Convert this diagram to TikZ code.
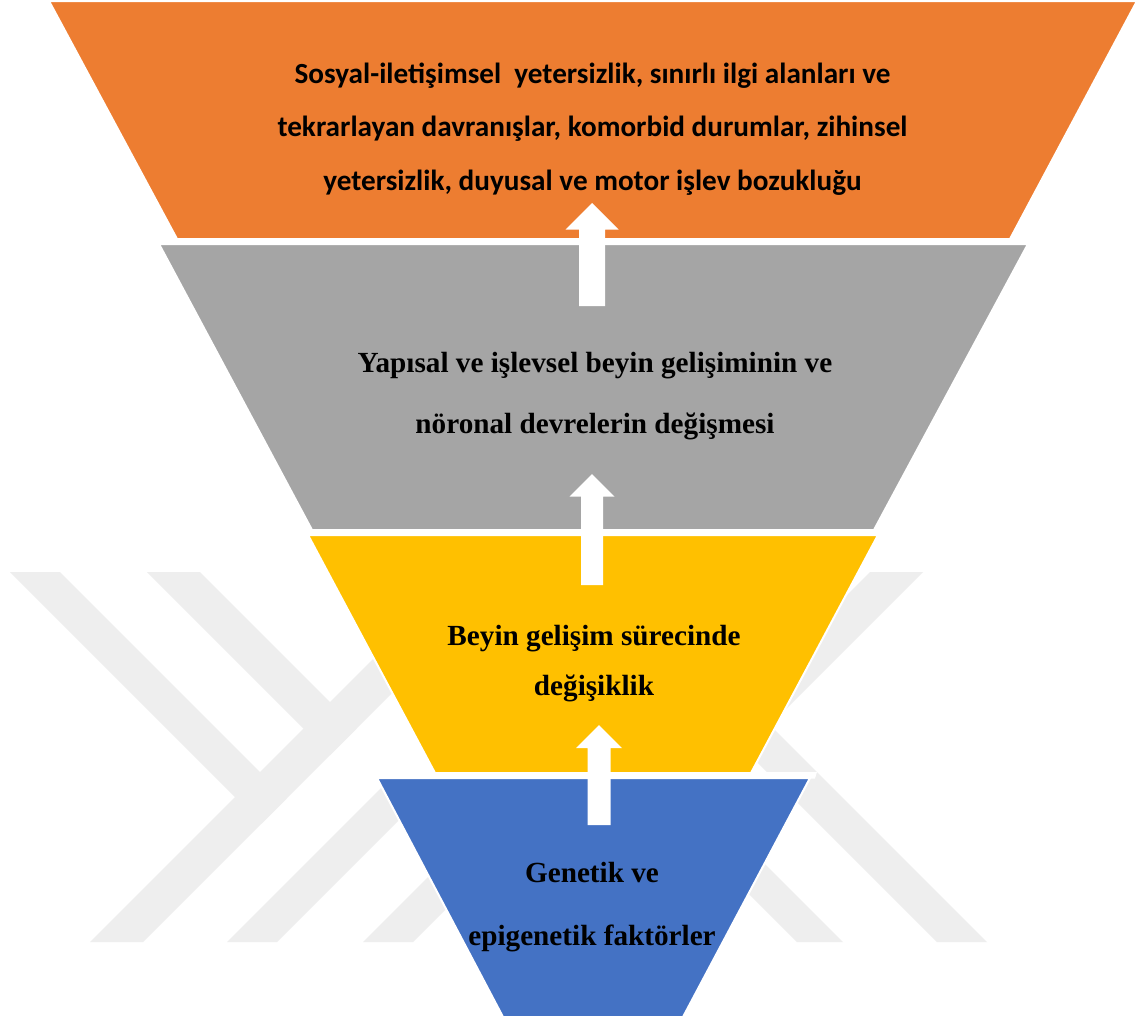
\documentclass[tikz,border=0pt]{standalone}
\usepackage{fontspec}
\setmainfont{Liberation Serif}
\newfontfamily\calibrifont{Carlito}
\definecolor{cOrange}{HTML}{ED7D31}
\definecolor{cGray}{HTML}{A5A5A5}
\definecolor{cYellow}{HTML}{FFC000}
\definecolor{cBlue}{HTML}{4472C4}
\definecolor{wmgray}{HTML}{EEEEEE}
\tikzset{
  band/.style={fill=wmgray},
  tier/.style={draw=white, line width=2pt, line join=miter},
  lbl/.style={align=center, anchor=base, inner sep=0pt, text=black},
  sanslbl/.style={lbl, font=\calibrifont\bfseries\fontsize{29.2pt}{53.5pt}\selectfont},
}
\newcommand\tierarrow[4]{%
  \fill[white] (#1) -- ++(#2,#2) -- ++({-(#2-#3)},0) -- ++(0,{#4-#2})
    -- ++({-2*#3},0) -- ++(0,{-(#4-#2)}) -- ++({-(#2-#3)},0) -- cycle;}
\begin{document}
\begin{tikzpicture}[x=1pt,y=-1pt]
\useasboundingbox (0,0) rectangle (1142,1023);
\fill[white] (0,0) rectangle (1142,1023);
% watermark bands
\fill[band] (10,572) -- (60,572) -- (286.5,798.5) -- (261.5,823.5) -- cycle;
\fill[band] (147,572) -- (200,572) -- (356.5,728.5) -- (330,755) -- cycle;
\fill[band] (90,942) -- (143,942) -- (513,572) -- (460,572) -- cycle;
\fill[band] (227,942) -- (277,942) -- (412,807) -- (387,782) -- cycle;
\fill[band] (363,942) -- (413,942) -- (480,875) -- (455,850) -- cycle;
\fill[band] (870,572) -- (923,572) -- (745,750) -- (718.5,723.5) -- cycle;
\fill[band] (937,942) -- (987,942) -- (743.5,698.5) -- (718.5,723.5) -- cycle;
\fill[band] (797,942) -- (843,942) -- (730.5,829.5) -- (707.5,852.5) -- cycle;
% tiers
\filldraw[tier, fill=cOrange] (49,1) -- (1137,1) -- (1010,239) -- (177,239) -- cycle;
\filldraw[tier, fill=cGray] (159,244) -- (1028,244) -- (874,530) -- (312,530) -- cycle;
\filldraw[tier, fill=cYellow] (308,535) -- (878,535) -- (751,773) -- (435,773) -- cycle;
\fill[white] (372,772) -- (817,772) -- (815,778.5) -- (374,778.5) -- cycle;
\filldraw[tier, fill=cBlue] (377,778) -- (810,778) -- (683,1017) -- (503,1017) -- cycle;
% texts (anchor = baseline of last line)
\node[sanslbl] (t1) at (592.5,190) {Sosyal-iletişimsel~ yetersizlik, sınırlı ilgi alanları ve\\
  tekrarlayan davranışlar, komorbid durumlar, zihinsel\\
  yetersizlik, duyusal ve motor işlev bozukluğu};
\node[lbl, font=\bfseries\fontsize{29.2pt}{61pt}\selectfont] (t2) at (595,433)
  {Yapısal ve işlevsel beyin gelişiminin ve\\ nöronal devrelerin değişmesi};
\node[lbl, font=\bfseries\fontsize{29.2pt}{50pt}\selectfont] (t3) at (594,695)
  {Beyin gelişim sürecinde\\ değişiklik};
\node[lbl, font=\bfseries\fontsize{29.2pt}{63pt}\selectfont] (t4) at (592,945)
  {Genetik ve\\ epigenetik faktörler};
% arrows
\coordinate (a1) at (592,203);
\coordinate (a2) at (592,474);
\coordinate (a3) at (599,725);
\tierarrow{a1}{26.5}{13}{103}
\tierarrow{a2}{22.5}{11}{111}
\tierarrow{a3}{23}{11.5}{100}
\end{tikzpicture}
\end{document}
